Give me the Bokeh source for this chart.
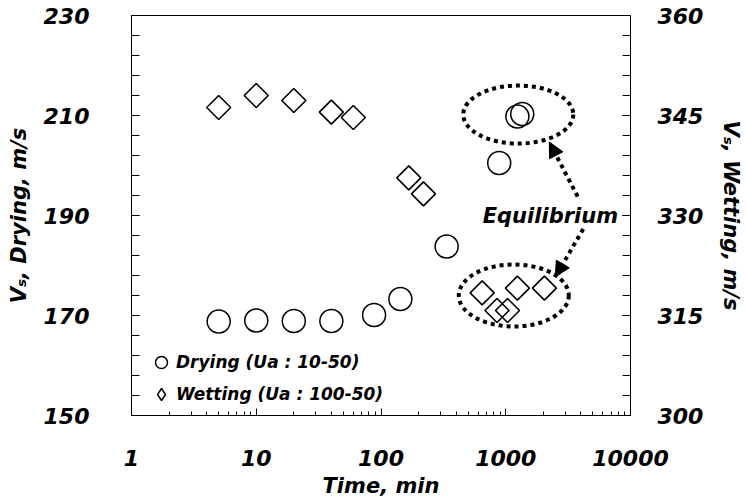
import numpy as np
from bokeh.plotting import figure
from bokeh.models import (Range1d, LinearAxis, FixedTicker, Legend, LegendItem,
                          Arrow, NormalHead, ColumnDataSource)
from bokeh.core.properties import value
from bokeh.embed import file_html
from bokeh.resources import INLINE

# ---- data ----
dry_t = [5, 10, 20, 40, 88, 143, 336, 886, 1240, 1356]
dry_v = [168.8, 169.0, 168.9, 168.9, 170.1, 173.3, 183.8, 200.5, 209.8, 210.3]

wet_t = [5, 10, 20, 40, 60, 167, 219, 647, 851, 1033, 1240, 2040]
wet_v = [346.2, 348.0, 347.25, 345.5, 344.7, 335.65, 333.25, 318.4, 315.75, 315.75, 319.1, 319.1]

# equilibrium ellipses (centres, left-axis units)
eq_t = [1260, 1160]
eq_v = [210.2, 174.0]

# arrows: from the label to the ellipses
arr_t0 = [3770, 4178]
arr_v0 = [193.8, 187.3]
arr_t1 = [2234, 2494]
arr_v1 = [204.7, 177.7]

label_t = [2280]
label_v = [190.0]
label_txt = ["Equilibrium"]

x_ticks = [1, 10, 100, 1000, 10000]
x_minor = [m * 10 ** e for e in range(0, 4) for m in range(2, 10)]
left_ticks = [150, 170, 190, 210, 230]
left_minor = list(range(150, 231, 4))
right_ticks = [300, 315, 330, 345, 360]
right_minor = list(range(300, 361, 3))

FONT = "DejaVu Sans"

p = figure(width=746, height=501, output_backend="svg", toolbar_location=None,
           x_axis_type="log", x_range=Range1d(1, 10000), y_range=Range1d(150, 230),
           min_border_left=131, min_border_right=112, min_border_top=15,
           min_border_bottom=86)
p.extra_y_ranges = {"wet": Range1d(300, 360),
                    # range used only so the legend swatch glyph stays out of view
                    "legend_only": Range1d(0, 1)}
p.xgrid.visible = False
p.ygrid.visible = False
p.outline_line_color = "black"
p.outline_line_width = 1
p.background_fill_color = "white"
p.border_fill_color = "white"

# x axis
xa = p.xaxis[0]
xa.ticker = FixedTicker(ticks=x_ticks, minor_ticks=x_minor)
xa.major_label_overrides = {t: str(t) for t in x_ticks}
xa.axis_label = "Time, min"

# left axis
ya = p.yaxis[0]
ya.ticker = FixedTicker(ticks=left_ticks, minor_ticks=left_minor)
ya.axis_label = "V\u209b, Drying, m/s"

# right axis
ra = LinearAxis(y_range_name="wet",
                ticker=FixedTicker(ticks=right_ticks, minor_ticks=right_minor),
                axis_label="V\u209b, Wetting, m/s")
p.add_layout(ra, "right")

for ax in (xa, ya, ra):
    ax.axis_line_color = "black"
    ax.axis_line_width = 1
    ax.major_tick_line_color = "black"
    ax.minor_tick_line_color = "black"
    ax.major_tick_out = 0
    ax.minor_tick_out = 0
    ax.major_label_text_font = FONT
    ax.major_label_text_font_style = "bold italic"
    ax.major_label_text_font_size = "22px"
    ax.major_label_text_color = "black"
    ax.axis_label_text_font = FONT
    ax.axis_label_text_font_style = "bold italic"
    ax.axis_label_text_font_size = "21px"
    ax.axis_label_text_color = "black"

xa.major_tick_in = 7
xa.minor_tick_in = 4
xa.major_label_standoff = 34
xa.axis_label_standoff = 5
ya.major_tick_in = 8
ya.minor_tick_in = 8
ya.major_label_standoff = 42
ya.axis_label_standoff = 10
ra.major_tick_in = 8
ra.minor_tick_in = 8
ra.major_label_standoff = 27
ra.axis_label_standoff = 13
ra.axis_label_orientation = "vertical"

# equilibrium ellipses
p.ellipse(x=eq_t, y=eq_v, width=[110, 110], height=[58, 62],
          width_units="screen", height_units="screen",
          fill_color=None, line_color="black", line_width=4, line_dash="4 4")

# arrows
asrc = ColumnDataSource(dict(x0=arr_t0, y0=arr_v0, x1=arr_t1, y1=arr_v1))
p.add_layout(Arrow(source=asrc, x_start="x0", y_start="y0", x_end="x1", y_end="y1",
                   line_width=4, line_dash="4 4", line_color="black",
                   end=NormalHead(size=15, fill_color="black", line_color="black",
                                  line_width=1)))

p.text(x=label_t, y=label_v, text=label_txt, text_font=value(FONT),
       text_font_style="bold italic", text_font_size="21px",
       text_align="center", text_baseline="middle", text_color="black")

# data
r_dry = p.scatter(dry_t, dry_v, marker="circle", size=23, fill_color=None,
                  line_color="black", line_width=1.5)
r_wet = p.scatter(wet_t, wet_v, marker="square", angle=np.pi / 4, size=17,
                  fill_color=None, line_color="black", line_width=1.6,
                  y_range_name="wet")
# legend swatch for the wetting series (diamond shape); its points map outside the frame
r_wet_leg = p.scatter(wet_t, wet_v, marker="diamond", size=14, fill_color=None,
                      line_color="black", line_width=1.5, y_range_name="legend_only")

legend = Legend(items=[LegendItem(label="Drying (Ua : 10-50)", renderers=[r_dry]),
                       LegendItem(label="Wetting (Ua : 100-50)", renderers=[r_wet_leg])],
                location=(15, 6), border_line_color=None, background_fill_alpha=0,
                padding=0, margin=0, spacing=2, glyph_width=30, glyph_height=30,
                label_standoff=0, label_text_font=FONT,
                label_text_font_style="bold italic", label_text_font_size="17px",
                label_text_color="black")
p.add_layout(legend, "center")

open("out.html", "w").write(file_html(p, INLINE))
